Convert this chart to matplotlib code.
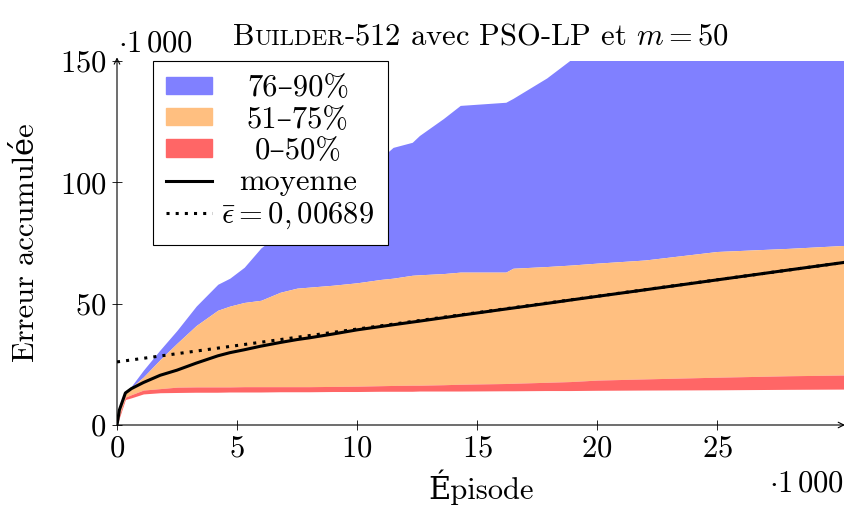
import numpy as np
import matplotlib
matplotlib.use("Agg")
import matplotlib.pyplot as plt
from matplotlib.patches import Patch
from matplotlib.lines import Line2D
from matplotlib.offsetbox import TextArea, HPacker, AnchoredOffsetbox

plt.rcParams['font.family'] = ['cmr10', 'DejaVu Serif']
plt.rcParams['mathtext.fontset'] = 'cm'
plt.rcParams['axes.formatter.use_mathtext'] = True

# episodes (x1000)
episodes = [0, 0.1, 0.35, 0.6, 1.1, 1.8, 2.5, 3.3, 4.2, 4.7, 5.3, 6.0, 6.8, 7.5, 8.0, 9.0,
            10.0, 11.0, 11.5, 12.3, 12.6, 13.6, 14.3, 16.2, 16.5, 17.9, 18.9, 20, 22, 25, 28, 30.3]
# accumulated error (x1000)
p90 = [0, 5, 13.5, 16, 22.6, 31, 39, 49, 58, 60.5, 65, 73, 79, 85, 89, 96,
       103, 110, 114.4, 116.5, 119.3, 126.3, 131.7, 133, 134.6, 143, 150.5, 157, 168, 182, 196, 206]
p75 = [0, 5, 13.5, 15.5, 19.8, 27, 33.7, 41, 47.3, 49, 50.5, 51.4, 54.7, 56.4, 56.8, 57.6,
       58.6, 60, 60.5, 61.7, 61.9, 62.4, 63, 63, 64.6, 65.3, 65.9, 66.7, 68, 71.5, 72.8, 74]
p50 = [0, 4, 11.5, 12.5, 14.4, 15.0, 15.6, 15.7, 15.7, 15.7, 15.8, 15.8, 15.8, 15.8, 15.8, 15.9,
       16, 16.2, 16.3, 16.4, 16.4, 16.6, 16.8, 17.1, 17.2, 17.6, 17.9, 18.5, 19, 19.7, 20.3, 20.6]
p0 = [0, 3, 10.5, 11.2, 12.8, 13.3, 13.4, 13.5, 13.5, 13.6, 13.6, 13.6, 13.7, 13.7, 13.7, 13.8,
      13.8, 13.9, 13.9, 13.9, 14.0, 14.0, 14.0, 14.1, 14.1, 14.2, 14.2, 14.3, 14.4, 14.5, 14.7, 14.8]
mean = [0, 6.2, 13.2, 15, 17.5, 20.5, 22.6, 25.5, 28.5, 29.8, 31, 32.5, 34, 35.2, 35.9, 37.5,
        39.2, 40.6, 41.3, 42.4, 42.8, 44.2, 45.2, 47.8, 48.2, 50.1, 51.5, 53, 55.7, 59.8, 63.9, 67]
eps_x = [0, 30.3]
eps_y = [26, 67]

FS = 22

fig = plt.figure(figsize=(8.45, 5.07), dpi=100)
ax = fig.add_axes([117/845, 82/507, 728/845, 364/507])

ax.fill_between(episodes, p75, p90, color='#8080ff', lw=0)
ax.fill_between(episodes, p50, p75, color='#ffbf80', lw=0)
ax.fill_between(episodes, p0, p50, color='#ff6666', lw=0)
ax.plot(eps_x, eps_y, color='black', lw=2.2, linestyle=(0, (1, 2)))
ax.plot(episodes, mean, color='black', lw=2.2)

ax.set_xlim(0, 30.33)
ax.set_ylim(0, 150)
ax.set_xticks([0, 5, 10, 15, 20, 25])
ax.set_yticks([0, 50, 100, 150])
ax.tick_params(direction='inout', length=7, width=0.6, labelsize=FS, pad=4)

for s in ['top', 'right', 'left', 'bottom']:
    ax.spines[s].set_visible(False)
ax.annotate('', xy=(1.0, 0), xytext=(0, 0), xycoords='axes fraction',
            arrowprops=dict(arrowstyle='->', lw=0.8, color='black', shrinkA=0, shrinkB=0))
ax.annotate('', xy=(0, 1.01), xytext=(0, 0), xycoords='axes fraction',
            arrowprops=dict(arrowstyle='->', lw=0.8, color='black', shrinkA=0, shrinkB=0))

ax.set_xlabel('Épisode', fontsize=FS, labelpad=5)
ax.set_ylabel('Erreur accumulée', fontsize=FS, labelpad=14)
fig.text(155/845, 1 - 44/507, r'$\cdot 1\,000$', fontsize=FS, ha='center', va='center')
fig.text(806/845, 1 - 484/507, r'$\cdot 1\,000$', fontsize=FS, ha='center', va='center')

# small caps title
parts = [TextArea('B', textprops=dict(fontsize=FS)),
         TextArea('UILDER', textprops=dict(fontsize=FS * 0.75)),
         TextArea(r'-512 avec PSO-LP et $m = 50$', textprops=dict(fontsize=FS))]
box = HPacker(children=parts, align='baseline', pad=0, sep=0)
ab = AnchoredOffsetbox(loc='lower center', child=box, frameon=False,
                       bbox_to_anchor=(0.5, 1.0), bbox_transform=ax.transAxes,
                       borderpad=0.75, pad=0)
ax.add_artist(ab)

handles = [Patch(color='#8080ff'), Patch(color='#ffbf80'), Patch(color='#ff6666'),
           Line2D([], [], color='black', lw=2.2),
           Line2D([], [], color='black', lw=2.2, linestyle=(0, (1, 2)))]
labels = ['76–90%', '51–75%', '0–50%', 'moyenne', r'$\bar{\epsilon} = 0,00689$']
leg = ax.legend(handles, labels, loc='upper left', bbox_to_anchor=(0.049, 1.0),
                fontsize=FS, frameon=True, fancybox=False, framealpha=1,
                edgecolor='black', handlelength=1.5, handleheight=0.5,
                handletextpad=0.3, labelspacing=0.13, borderpad=0.45, borderaxespad=0)
leg.get_frame().set_linewidth(0.8)

# centre legend texts in their column like pgfplots
fig.canvas.draw()
renderer = fig.canvas.get_renderer()
widths = [t.get_window_extent(renderer).width for t in leg.get_texts()]
for t, w in zip(leg.get_texts(), widths):
    t.set_x((max(widths) - w) / 2)

fig.savefig('out.png', dpi=100)
